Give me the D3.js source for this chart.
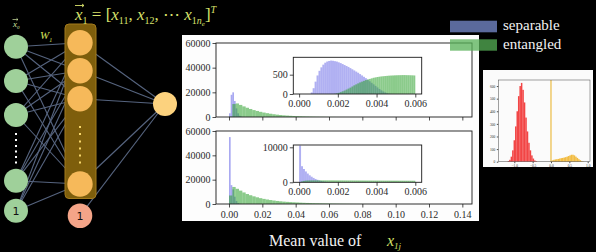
<!DOCTYPE html>
<html><head><meta charset="utf-8">
<script src="https://cdn.jsdelivr.net/npm/d3@7"></script>
<style>html,body{margin:0;padding:0;background:#000;overflow:hidden}svg{display:block}</style>
</head><body>
<script>
// ---------------- DATA ----------------
const seriesNames = ["separable", "entangled"];
const mainXTicks = [0.00, 0.02, 0.04, 0.06, 0.08, 0.10, 0.12, 0.14];
const mainYTicks = [0, 20000, 40000, 60000];
const insetXTicks = [0.000, 0.002, 0.004, 0.006];
const topInsetYTicks = [0, 500];
const botInsetYTicks = [0, 10000];

const sepBinWidth = 0.001;    // separable, main panels
const entBinWidth = 0.002;    // entangled, main panels
const insetBinWidth = 0.0001; // insets

const topSeparable = [3000, 18000, 20000, 13000, 7000, 3000, 1000, 300];
const topEntangled = [300, 10500, 11000, 9800, 8600, 7500, 6500, 5600, 4900, 4200, 3600, 3100, 2650, 2250, 1900, 1600, 1350, 1150, 970, 820, 690, 580, 480, 400, 330, 270, 220, 180, 145, 115, 90, 70, 55, 42, 32, 24, 17, 12, 8, 5, 3];
const botSeparable = [55000, 15500, 12000, 6000, 2500, 800, 200];
const botEntangled = [7000, 14000, 12500, 11000, 9500, 8200, 7200, 6300, 5500, 4800, 4200, 3700, 3250, 2850, 2500, 2200, 1950, 1750, 1550, 1400, 1250, 1100, 980, 870, 770, 680, 600, 530, 470, 410, 360, 310, 270, 230, 200, 170, 140, 120, 100, 80, 65, 50, 40, 30, 20, 12, 6, 3];

const topInsetSeparable = [0, 0, 0, 0, 0, 0, 40, 150, 320, 480, 600, 690, 760, 810, 840, 855, 865, 860, 850, 840, 820, 800, 775, 750, 725, 700, 670, 640, 610, 580, 550, 515, 480, 445, 410, 370, 330, 290, 250, 210, 170, 130, 95, 65, 40, 20, 8, 3];
const topInsetEntangled = [0, 0, 0, 0, 0, 0, 0, 0, 0, 0, 0, 0, 0, 0, 0, 0, 0, 0, 5, 15, 30, 50, 70, 90, 115, 140, 165, 195, 225, 250, 275, 300, 320, 340, 360, 375, 390, 405, 420, 430, 440, 448, 455, 460, 465, 470, 475, 478, 480, 483, 485, 487, 488, 490, 490, 488, 487, 485, 483, 480];
const botInsetSeparable = [10500, 4600, 3800, 3100, 2500, 2000, 1600, 1250, 950, 720, 530, 380, 260, 170, 100, 55, 25, 10];
const botInsetEntangled = [60, 250, 400, 480, 520, 540, 550, 555, 558, 560, 560, 559, 558, 556, 554, 552, 550, 548, 546, 543, 540, 538, 535, 532, 530, 527, 524, 521, 518, 515, 512, 509, 506, 503, 500, 498, 495, 493, 490, 488, 486, 484, 482, 480, 478, 476, 474, 472, 470, 468, 466, 464, 462, 460, 458, 456, 454, 452, 450, 448];

// small side figure
const sideXTicks = [-1.0, -0.5, 0.0, 0.5, 1.0];
const sideYTicks = [0, 100, 200, 300, 400, 500, 600];
const sideBinWidth = 0.04;
const sideRedStart = -1.18;
const sideRed = [5, 15, 40, 90, 170, 280, 400, 520, 600, 625, 570, 470, 350, 240, 150, 90, 50, 25, 10, 4];
const sideYellowStart = 0.02;
const sideYellow = [10, 15, 18, 20, 22, 25, 28, 30, 33, 36, 40, 45, 50, 55, 55, 50, 40, 30, 20, 12, 5, 2];

// ---------------- DRAW ----------------
const W = 596, H = 252;
const svg = d3.select("body").append("svg").attr("width", W).attr("height", H);
svg.append("rect").attr("width", W).attr("height", H).attr("fill", "#000");

const SERIF = "'Liberation Serif', 'Times New Roman', serif";
const blue = "#6f6fe8", green = "#2ca02c";

// ----- network diagram -----
const net = svg.append("g");
const inX = 16, hidX = 80, outX = 165, outY = 104;
const inYs = [46.7, 81, 115, 180.7], inBiasY = 210.7;
const hidYs = [42.7, 70.7, 98.7, 184], hidBiasY = 215.7;
const lineCol = "#56647f";
[...inYs, inBiasY].forEach(y1 => hidYs.forEach(y2 => {
  net.append("line").attr("x1", inX).attr("y1", y1).attr("x2", hidX).attr("y2", y2)
    .attr("stroke", lineCol).attr("stroke-width", 1.1);
}));
[...hidYs, hidBiasY].forEach(y1 => {
  net.append("line").attr("x1", hidX).attr("y1", y1).attr("x2", outX).attr("y2", outY)
    .attr("stroke", lineCol).attr("stroke-width", 1.1);
});
net.append("rect").attr("x", 65).attr("y", 24).attr("width", 31).attr("height", 174.5).attr("rx", 4)
  .attr("fill", "#7e5e0c").attr("stroke", "#a27a1c").attr("stroke-width", 1);
inYs.forEach(y => net.append("circle").attr("cx", inX).attr("cy", y).attr("r", 12).attr("fill", "#9fd09a"));
net.append("circle").attr("cx", inX).attr("cy", inBiasY).attr("r", 12).attr("fill", "#9fd09a");
hidYs.forEach(y => net.append("circle").attr("cx", hidX).attr("cy", y).attr("r", 12.7).attr("fill", "#f6b95a"));
net.append("circle").attr("cx", hidX).attr("cy", hidBiasY).attr("r", 12.3).attr("fill", "#f4a488");
net.append("circle").attr("cx", outX).attr("cy", outY).attr("r", 12).attr("fill", "#fcd27e");
[134, 140, 146, 151.5, 157, 162.5].forEach(y => net.append("rect").attr("x", inX - 1).attr("y", y - 1).attr("width", 2).attr("height", 2).attr("fill", "#fff"));
[127, 134, 141.5, 148.5, 155.5, 162.5].forEach(y => net.append("rect").attr("x", hidX - 1).attr("y", y - 1).attr("width", 2).attr("height", 2).attr("fill", "#f7d66a"));
net.append("text").attr("x", inX).attr("y", inBiasY + 4).attr("text-anchor", "middle")
  .attr("font-family", "'DejaVu Sans', sans-serif").attr("font-size", 11).attr("fill", "#111").text("1");
net.append("text").attr("x", hidX).attr("y", hidBiasY + 4).attr("text-anchor", "middle")
  .attr("font-family", "'DejaVu Sans', sans-serif").attr("font-size", 11).attr("fill", "#111").text("1");

// labels x0 and W1
const lab = svg.append("g").attr("font-family", SERIF).attr("font-style", "italic");
const t0 = lab.append("text").attr("x", 13).attr("y", 27).attr("font-size", 9).attr("fill", "#cfe3a0");
t0.append("tspan").text("x");
t0.append("tspan").attr("dy", 2).attr("font-size", 5).text("0");
lab.append("path").attr("d", "M12.5,19.5 L18,19.5 M16.5,18.3 L18,19.5 L16.5,20.7").attr("stroke", "#cfe3a0").attr("stroke-width", 0.7).attr("fill", "none");
const tw = lab.append("text").attr("x", 40).attr("y", 39).attr("font-size", 11).attr("fill", "#d6e05a");
tw.append("tspan").text("W");
tw.append("tspan").attr("dy", 2.5).attr("font-size", 6).text("1");

// formula
const fcol = "#d9e26c";
const f = svg.append("text").attr("x", 75).attr("y", 20).attr("font-family", SERIF).attr("font-size", 17).attr("fill", fcol);
function piece(txt, opt) {
  const s = f.append("tspan").text(txt);
  if (opt.italic) s.attr("font-style", "italic");
  if (opt.size) s.attr("font-size", opt.size);
  if (opt.dy) s.attr("dy", opt.dy);
  return s;
}
piece("x", {italic: true});
piece("1", {size: 10, dy: 4});
piece(" = [", {dy: -4});
piece("x", {italic: true});
piece("11", {size: 10, dy: 4});
piece(", ", {dy: -4});
piece("x", {italic: true});
piece("12", {size: 10, dy: 4});
piece(", \u22EF ", {dy: -4});
piece("x", {italic: true});
piece("1", {size: 10, dy: 4});
piece("n", {size: 10, italic: true});
piece("e", {size: 7, italic: true, dy: 2});
piece("]", {dy: -6});
piece("T", {size: 10, italic: true, dy: -7});
svg.append("path").attr("d", "M75,5.5 L84,5.5 M82,4 L84,5.5 L82,7").attr("stroke", fcol).attr("stroke-width", 0.9).attr("fill", "none");

// ----- white panel with histograms -----
svg.append("rect").attr("x", 182).attr("y", 35).attr("width", 297).attr("height", 186).attr("fill", "#fdfdfd");

let clipId = 0;
function axesBox(x0, x1, y0, y1) {
  const g = svg.append("g");
  g.append("rect").attr("x", x0).attr("y", y0).attr("width", x1 - x0).attr("height", y1 - y0).attr("fill", "#fff");
  const id = "clip" + (clipId++);
  svg.append("clipPath").attr("id", id).append("rect").attr("x", x0).attr("y", y0).attr("width", x1 - x0).attr("height", y1 - y0);
  const plot = g.append("g").attr("clip-path", `url(#${id})`);
  return {g, plot};
}
function hist(g, x, y, values, start, bw, color, op) {
  g.append("g").selectAll("rect").data(values).join("rect")
    .attr("x", (d, i) => x(start + i * bw))
    .attr("width", (d, i) => x(start + (i + 1) * bw) - x(start + i * bw))
    .attr("y", d => y(d))
    .attr("height", d => y(0) - y(d))
    .attr("fill", color).attr("fill-opacity", op);
}
function styleAxis(sel, fs) {
  sel.attr("font-family", SERIF);
  sel.select(".domain").remove();
  sel.selectAll("line").attr("stroke", "#222").attr("stroke-width", 0.8);
  sel.selectAll("text").attr("font-family", SERIF).attr("font-size", fs).attr("fill", "#2a2a2a");
}
function frame(g, x0, x1, y0, y1) {
  g.append("rect").attr("x", x0).attr("y", y0).attr("width", x1 - x0).attr("height", y1 - y0)
    .attr("fill", "none").attr("stroke", "#1a1a1a").attr("stroke-width", 0.9);
}

const ML = 216, MR = 472;
const xMain = d3.scaleLinear().domain([-0.0078, 0.1458]).range([ML, MR]);
const xInset = d3.scaleLinear().domain([-0.0003, 0.00633]).range([293.3, 421.7]);

function mainPanel(top, bottom, sep, ent, showLabels) {
  const y = d3.scaleLinear().domain([0, 60000]).range([bottom, top]);
  const {g, plot} = axesBox(ML, MR, top, bottom);
  hist(plot, xMain, y, sep, 0, sepBinWidth, blue, 0.6);
  hist(plot, xMain, y, ent, 0, entBinWidth, green, 0.55);
  const ax = g.append("g").attr("transform", `translate(${ML},0)`)
    .call(d3.axisLeft(y).tickValues(mainYTicks).tickSize(3.5).tickPadding(2).tickFormat(d3.format("d")));
  styleAxis(ax, 10);
  const bx = g.append("g").attr("transform", `translate(0,${bottom})`)
    .call(d3.axisBottom(xMain).tickValues(mainXTicks).tickSize(3.5).tickPadding(3)
      .tickFormat(showLabels ? d3.format(".2f") : () => ""));
  styleAxis(bx, 10);
  frame(g, ML, MR, top, bottom);
  return g;
}
function insetPanel(top, bottom, ymax, yticks, sep, ent) {
  const y = d3.scaleLinear().domain([0, ymax]).range([bottom, top]);
  const {g, plot} = axesBox(293.3, 421.7, top, bottom);
  hist(plot, xInset, y, sep, 0, insetBinWidth, blue, 0.55);
  hist(plot, xInset, y, ent, 0, insetBinWidth, green, 0.55);
  const ax = g.append("g").attr("transform", `translate(293.3,0)`)
    .call(d3.axisLeft(y).tickValues(yticks).tickSize(3.5).tickPadding(2).tickFormat(d3.format("d")));
  styleAxis(ax, 10);
  const bx = g.append("g").attr("transform", `translate(0,${bottom})`)
    .call(d3.axisBottom(xInset).tickValues(insetXTicks).tickSize(3.5).tickPadding(2).tickFormat(d3.format(".3f")));
  styleAxis(bx, 10);
  frame(g, 293.3, 421.7, top, bottom);
}

mainPanel(43, 117, topSeparable, topEntangled, false);
insetPanel(57.3, 94, 950, topInsetYTicks, topInsetSeparable, topInsetEntangled);
mainPanel(131, 204, botSeparable, botEntangled, true);
insetPanel(145, 182.3, 10660, botInsetYTicks, botInsetSeparable, botInsetEntangled);

// legend
const leg = svg.append("g");
leg.append("rect").attr("x", 450).attr("y", 20.7).attr("width", 47).attr("height", 11.6).attr("fill", "#5b6a9c");
leg.append("rect").attr("x", 450).attr("y", 39.3).attr("width", 47).attr("height", 11.4).attr("fill", "#55b055").attr("fill-opacity", 0.75);
leg.selectAll("text").data(seriesNames).join("text")
  .attr("x", 503).attr("y", (d, i) => 30 + i * 18.5)
  .attr("font-family", SERIF).attr("font-size", 15).attr("fill", "#f2f2f2").text(d => d);

// x label
const xl = svg.append("text").attr("x", 269).attr("y", 246).attr("font-family", SERIF).attr("font-size", 16).attr("fill", "#f2f2f2");
xl.append("tspan").text("Mean value of");
const xl2 = svg.append("text").attr("x", 387).attr("y", 246).attr("font-family", SERIF).attr("font-size", 16).attr("fill", "#d4e06a").attr("font-style", "italic");
xl2.append("tspan").text("x");
xl2.append("tspan").attr("dy", 3).attr("font-size", 9).text("1j");

// ----- side figure -----
svg.append("rect").attr("x", 483).attr("y", 70).attr("width", 110).attr("height", 97).attr("fill", "#fbfbfb");
const sx = d3.scaleLinear().domain([-1.436, 1.063]).range([498.3, 590]);
const sy = d3.scaleLinear().domain([0, 648]).range([161.7, 80]);
const side = svg.append("g");
hist(side, sx, sy, sideRed, sideRedStart, sideBinWidth, "#f01818", 0.8);
hist(side, sx, sy, sideYellow, sideYellowStart, sideBinWidth, "#f0b020", 0.85);
side.append("line").attr("x1", sx(0)).attr("x2", sx(0)).attr("y1", 80).attr("y2", 161.7).attr("stroke", "#e8b020").attr("stroke-width", 1);
const sax = side.append("g").attr("transform", "translate(498.3,0)")
  .call(d3.axisLeft(sy).tickValues(sideYTicks).tickSize(1.5).tickPadding(1.5));
styleAxis(sax, 3.5);
const sbx = side.append("g").attr("transform", "translate(0,161.7)")
  .call(d3.axisBottom(sx).tickValues(sideXTicks).tickSize(1.5).tickPadding(1).tickFormat(d3.format(".1f")));
styleAxis(sbx, 3.5);
side.append("rect").attr("x", 498.3).attr("y", 80).attr("width", 91.7).attr("height", 81.7).attr("fill", "none").attr("stroke", "#444").attr("stroke-width", 0.5);
</script>
</body></html>
